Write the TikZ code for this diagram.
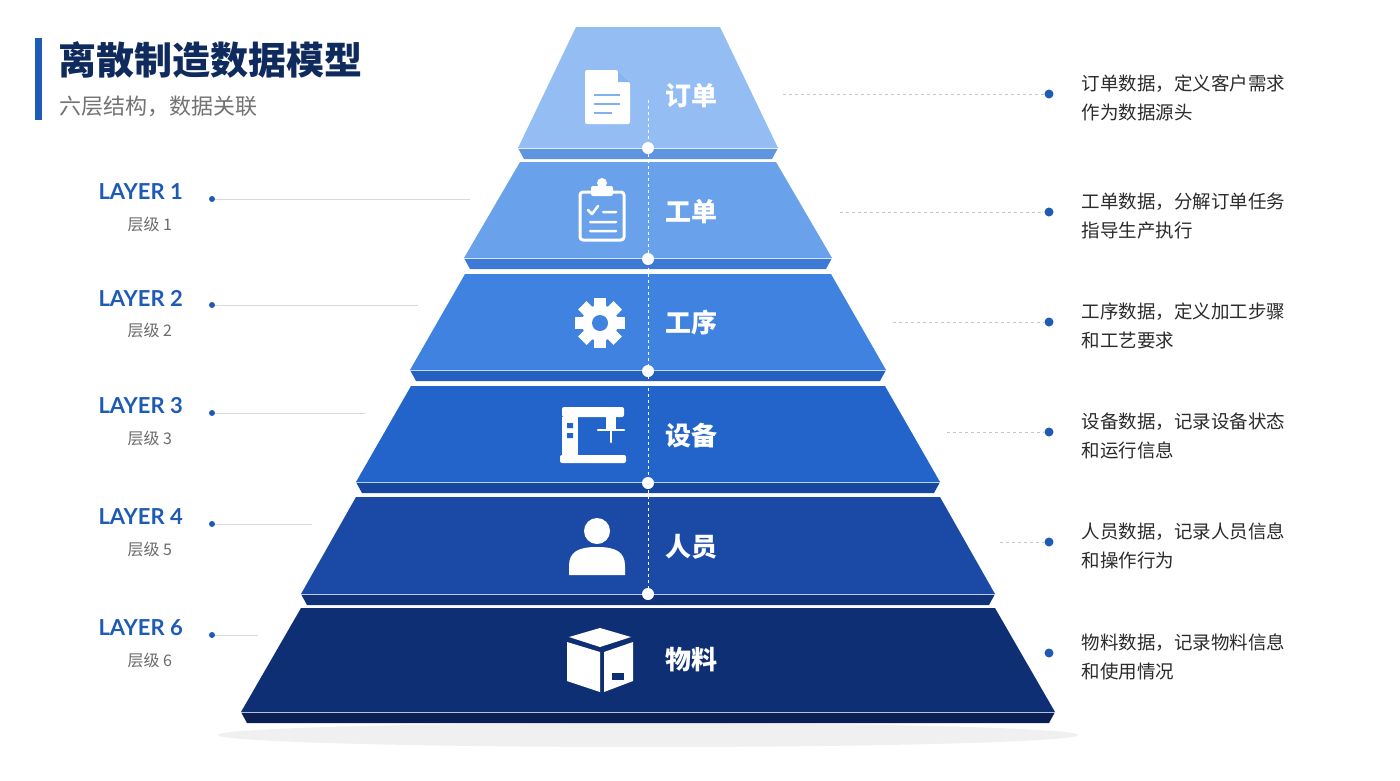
\documentclass[tikz,border=0pt]{standalone}
\usepackage{fontspec}
\setmainfont{Noto Sans CJK SC}
\newfontfamily\lat{Lato}
\definecolor{cA}{HTML}{93BDF3}\definecolor{dA}{HTML}{5E95DE}
\definecolor{cB}{HTML}{69A2EA}\definecolor{dB}{HTML}{3C7AD6}
\definecolor{cC}{HTML}{3F82E0}\definecolor{dC}{HTML}{2560C0}
\definecolor{cD}{HTML}{2364CA}\definecolor{dD}{HTML}{16479E}
\definecolor{cE}{HTML}{1A4AA6}\definecolor{dE}{HTML}{0F3278}
\definecolor{cF}{HTML}{0F2F74}\definecolor{dF}{HTML}{0A2055}
\definecolor{navy}{HTML}{0F2A5C}
\definecolor{blu}{HTML}{1E5BB5}
\definecolor{txt}{HTML}{2B2B2B}
\tikzset{
 lab/.style={font=\lat\bfseries\fontsize{22}{26}\selectfont,text=blu,anchor=west},
 sub/.style={font=\fontsize{16}{18}\selectfont,text=gray!85!black,anchor=west},
 desc/.style={font=\fontsize{18.5}{29}\selectfont,text=txt,anchor=west,align=left},
 lname/.style={font=\bfseries\fontsize{26}{30}\selectfont,text=white,anchor=west},
 ldot/.style={circle,fill=blu,inner sep=0,minimum size=6pt},
 rdot/.style={circle,fill=blu,inner sep=0,minimum size=9pt},
 cdot/.style={circle,fill=white,inner sep=0,minimum size=12pt},
 ico/.style={white,line width=3pt,line cap=round,line join=round},
}
\begin{document}
\begin{tikzpicture}[x=1pt,y=-1pt]
\fill[white] (0,0) rectangle (1400,780);
\useasboundingbox (0,0) rectangle (1400,780);
\fill[gray!12] (648,735) ellipse (430 and 12);
% layers
\foreach \n/\yt/\yb/\ht/\hb/\c/\d in {1/27/148/72/130/cA/dA,2/162/258/128/184/cB/dB,3/274/370/183/238/cC/dC,4/386/482/237/292/cD/dD,5/497/594/292/347/cE/dE,6/608/712/347/407/cF/dF}{
 \fill[\c] (648-\ht,\yt) -- (648+\ht,\yt) -- (648+\hb,\yb) -- (648-\hb,\yb) -- cycle;
 \fill[\d] (648-\hb,\yb) -- (648+\hb,\yb) -- (648+\hb-6,\yb+11) -- (648-\hb+6,\yb+11) -- cycle;
 \draw[white!70!\c,line width=1pt] (648-\hb,\yb) -- (648+\hb,\yb);
}
\draw[white,dashed,line width=1pt] (648,100) -- (648,600);
\foreach \y/\nm in {148/a,259/b,371/c,483/d,594/e}{\node[cdot] (cd\nm) at (648,\y) {};}
% names
\node[lname] (n1) at (662,96) {订单};
\node[lname] (n2) at (662,212) {工单};
\node[lname] (n3) at (662,323) {工序};
\node[lname] (n4) at (662,436) {设备};
\node[lname] (n5) at (662,547) {人员};
\node[lname] (n6) at (662,660) {物料};
% icons
\fill[white,rounded corners=2pt] (585,70) -- (618,70) -- (630,82) -- (630,124) -- (585,124) -- cycle;
\fill[cA!80!dA] (618,70) -- (618,82) -- (630,82) -- cycle;
\draw[cA!70!dA,line width=2.5pt] (594,95)--(620,95) (594,104)--(620,104) (594,113)--(612,113);
\draw[ico,rounded corners=3pt] (580,192) rectangle (624,240);
\fill[white,rounded corners=2pt] (591,186) rectangle (613,196);
\fill[white] (602,183) circle (5);
\draw[ico,line width=2.5pt] (588,210)--(592,214)--(598,206) (603,212)--(616,212) (590,222)--(616,222) (590,231)--(616,231);
\foreach \a in {0,45,...,315}{\fill[white,rotate around={\a:(600,323)}] (594,298) rectangle (606,310);}
\fill[white] (600,323) circle (18); \fill[cC] (600,323) circle (8);
\fill[white,rounded corners=2pt] (562,407) rectangle (624,417);
\fill[white] (562,417) rectangle (578,455);
\fill[white] (606,417) rectangle (616,430);
\draw[ico,line width=2.5pt] (598,430)--(624,430) (611,430)--(611,442);
\fill[white,rounded corners=2pt] (560,455) rectangle (626,463);
\fill[cD] (567,423) rectangle (573,428) (567,433) rectangle (573,438);
\fill[white] (597,531) circle (13);
\fill[white] (569,575) -- (569,566) .. controls (569,552) and (578,547) .. (597,547) .. controls (616,547) and (625,552) .. (625,566) -- (625,575) -- cycle;
\fill[white] (567,642) -- (600,652) -- (600,692) -- (567,681) -- cycle;
\fill[white] (604,652) -- (633,642) -- (633,681) -- (604,692) -- cycle;
\fill[white] (569,637) -- (600,628) -- (631,637) -- (600,647) -- cycle;
\fill[cF] (612,673) rectangle (624,680);
% title
\fill[blu] (35,38) rectangle (42,120);
\node[anchor=west,font=\bfseries\fontsize{38}{44}\selectfont,text=navy] (title) at (55,60) {离散制造数据模型};
\node[anchor=west,font=\fontsize{22}{26}\selectfont,text=gray!90!black] (subt) at (56,106) {六层结构，数据关联};
% left labels
\foreach \k/\y/\s/\e/\t in {1/192/1/470/1,2/298/2/418/2,3/406/3/365/3,4/517/5/312/4,5/628/6/258/6}{
 \node[lab] (L\k) at (95,\y) {LAYER \t};
 \node[sub] (S\k) at (124,\y+32) {层级 \s};
 \node[ldot] (ld\k) at (212,\y+7) {};
 \coordinate (le\k) at (\e,\y+7);
 \draw[gray!30,line width=0.8pt] (ld\k) -- (le\k);
}
% right
\foreach \k/\y/\s/\ta/\tb in {1/94/783/订单数据，定义客户需求/作为数据源头,2/212/840/工单数据，分解订单任务/指导生产执行,3/322/893/工序数据，定义加工步骤/和工艺要求,4/432/947/设备数据，记录设备状态/和运行信息,5/542/1000/人员数据，记录人员信息/和操作行为,6/653/1049/物料数据，记录物料信息/和使用情况}{
 \node[rdot] (rd\k) at (1049,\y) {};
 \coordinate (rs\k) at (\s,\y);
 \draw[gray!45,dashed,line width=0.8pt] (rs\k) -- (rd\k);
 \node[desc] (D\k) at (1078,\y+4) {\ta\\\tb};
}
\end{tikzpicture}
\end{document}
